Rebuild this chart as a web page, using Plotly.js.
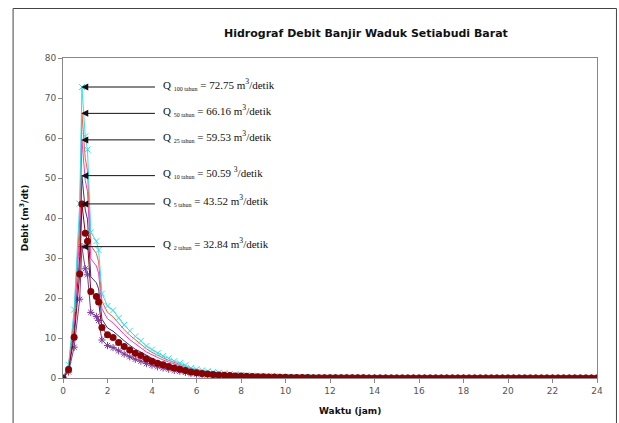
<!DOCTYPE html>
<html><head><meta charset="utf-8">
<script src="https://cdn.plot.ly/plotly-3.0.1.min.js"></script>
<style>html,body{margin:0;padding:0;background:#fff}#chart{width:619px;height:423px}</style>
</head><body><div id="chart"></div>
<script>
// time (jam)
const waktu = [0,0.25,0.5,0.75,0.85,1,1.1,1.25,1.5,1.6,1.75,
 2,2.25,2.5,2.75,3,3.25,3.5,3.75,4,4.25,4.5,4.75,5,5.25,5.5,5.75,6,6.25,6.5,6.75,7,7.25,7.5,7.75,8,
 8.25,8.5,8.75,9,9.25,9.5,9.75,10,10.25,10.5,10.75,11,11.25,11.5,11.75,12,
 12.25,12.5,12.75,13,13.25,13.5,13.75,14,14.25,14.5,14.75,15,15.25,15.5,15.75,16,
 16.25,16.5,16.75,17,17.25,17.5,17.75,18,18.25,18.5,18.75,19,19.25,19.5,19.75,20,
 20.25,20.5,20.75,21,21.25,21.5,21.75,22,22.25,22.5,22.75,23,23.25,23.5,23.75,24];

const q100 = [0,3.3,17.1,43.6,72.75,60.4,57.1,36.4,34.2,32.0,21.1,
 18.0,16.9,15.0,13.3,11.8,10.4,9.3,8.0,7.1,6.2,5.5,4.9,4.2,3.7,3.2,2.5,2.2,1.9,1.7,1.5,1.3,1.2,1.0,0.9,0.8,
 0.7,0.6,0.55,0.48,0.42,0.37,0.33,0.29,0.26,0.23,0.2,0.18,0.16,0.14,0.12,0.11,
 0.10,0.09,0.08,0.07,0.07,0.06,0.05,0.05,0.04,0.04,0.04,0.03,0.03,0.03,0.02,0.02,
 0.02,0.02,0.02,0.02,0.01,0.01,0.01,0.01,0.01,0.01,0.01,0.01,0.01,0.01,0.01,0.01,
 0.01,0.01,0.01,0.01,0.01,0.01,0.01,0.01,0.01,0.01,0.01,0.01,0.01,0.01,0.01,0.01];

const q50 = [0,3.0,15.5,39.7,66.16,54.9,51.9,33.1,31.1,29.1,19.2,
 16.4,15.3,13.6,12.1,10.7,9.5,8.5,7.3,6.4,5.6,5.0,4.4,3.8,3.4,2.9,2.3,2.0,1.7,1.5,1.3,1.2,1.06,0.93,0.8,0.73,
 0.63,0.56,0.5,0.44,0.38,0.34,0.3,0.26,0.23,0.2,0.18,0.16,0.14,0.13,0.11,0.1,
 0.09,0.08,0.07,0.07,0.06,0.05,0.05,0.04,0.04,0.04,0.03,0.03,0.03,0.02,0.02,0.02,
 0.02,0.02,0.02,0.01,0.01,0.01,0.01,0.01,0.01,0.01,0.01,0.01,0.01,0.01,0.01,0.01,
 0.01,0.01,0.01,0.01,0.01,0.01,0.01,0.01,0.01,0.01,0.01,0.01,0.01,0.01,0.01,0.01];

const q25 = [0,2.7,14.0,35.7,59.53,49.4,46.7,29.8,28.0,26.2,17.3,
 14.8,13.8,12.3,10.9,9.6,8.5,7.6,6.5,5.8,5.1,4.5,4.0,3.5,3.0,2.6,2.1,1.8,1.5,1.4,1.2,1.07,0.95,0.83,0.71,0.65,
 0.57,0.5,0.45,0.39,0.35,0.3,0.27,0.24,0.21,0.18,0.16,0.14,0.13,0.11,0.1,0.09,
 0.08,0.07,0.07,0.06,0.05,0.05,0.04,0.04,0.04,0.03,0.03,0.03,0.02,0.02,0.02,0.02,
 0.02,0.02,0.01,0.01,0.01,0.01,0.01,0.01,0.01,0.01,0.01,0.01,0.01,0.01,0.01,0.01,
 0.01,0.01,0.01,0.01,0.01,0.01,0.01,0.01,0.01,0.01,0.01,0.01,0.01,0.01,0.01,0.01];

const q10 = [0,2.3,11.9,30.4,50.59,42.0,39.7,25.3,23.8,22.3,14.7,
 12.5,11.7,10.4,9.3,8.2,7.2,6.5,5.6,4.9,4.3,3.8,3.4,2.9,2.6,2.2,1.8,1.5,1.3,1.16,1.0,0.91,0.81,0.71,0.61,0.56,
 0.48,0.43,0.38,0.33,0.29,0.26,0.23,0.2,0.18,0.16,0.14,0.12,0.11,0.1,0.09,0.08,
 0.07,0.06,0.06,0.05,0.05,0.04,0.04,0.03,0.03,0.03,0.03,0.02,0.02,0.02,0.02,0.02,
 0.01,0.01,0.01,0.01,0.01,0.01,0.01,0.01,0.01,0.01,0.01,0.01,0.01,0.01,0.01,0.01,
 0.01,0.01,0.01,0.01,0.01,0.01,0.01,0.01,0.01,0.01,0.01,0.01,0.01,0.01,0.01,0.01];

const q5 = [0,2.1,10.2,26.0,43.52,36.2,34.2,21.6,20.4,19.0,12.6,
 10.8,10.1,8.9,7.9,7.0,6.2,5.6,4.8,4.2,3.7,3.3,2.9,2.5,2.2,1.9,1.5,1.3,1.13,1.0,0.87,0.78,0.7,0.61,0.52,0.48,
 0.41,0.37,0.33,0.29,0.25,0.22,0.2,0.17,0.15,0.14,0.12,0.1,0.09,0.08,0.07,0.07,
 0.06,0.05,0.05,0.04,0.04,0.04,0.03,0.03,0.03,0.02,0.02,0.02,0.02,0.02,0.01,0.01,
 0.01,0.01,0.01,0.01,0.01,0.01,0.01,0.01,0.01,0.01,0.01,0.01,0.01,0.01,0.01,0.01,
 0.01,0.01,0.01,0.01,0.01,0.01,0.01,0.01,0.01,0.01,0.01,0.01,0.01,0.01,0.01,0.01];

const q2 = [0,1.5,7.7,19.7,32.84,27.3,25.8,16.4,15.4,14.4,9.5,
 8.1,7.6,6.8,6.0,5.3,4.7,4.2,3.6,3.2,2.8,2.5,2.2,1.9,1.7,1.4,1.15,0.99,0.85,0.76,0.66,0.59,0.53,0.46,0.39,0.36,
 0.31,0.28,0.25,0.22,0.19,0.17,0.15,0.13,0.11,0.1,0.09,0.08,0.07,0.06,0.06,0.05,
 0.05,0.04,0.04,0.03,0.03,0.03,0.02,0.02,0.02,0.02,0.02,0.01,0.01,0.01,0.01,0.01,
 0.01,0.01,0.01,0.01,0.01,0.01,0.01,0.01,0.01,0.01,0.01,0.01,0.01,0.01,0.01,0.01,
 0.01,0.01,0.01,0.01,0.01,0.01,0.01,0.01,0.01,0.01,0.01,0.01,0.01,0.01,0.01,0.01];

// peak labels
const peakNames = ['100 tahun','50 tahun','25 tahun','10 tahun','5 tahun','2 tahun'];
const peakValues = [72.75, 66.16, 59.53, 50.59, 43.52, 32.84];
const peakUnits = ['m<sup>3</sup>/detik','m<sup>3</sup>/detik','m<sup>3</sup>/detik','<sup>3</sup>/detik','m<sup>3</sup>/detik','m<sup>3</sup>/detik'];

const peakTime = 0.82;   // arrow tip (jam)
const arrowTail = 4.2;   // arrow tail (jam)
const labelX = 4.4;

const lineTrace = (y, color, extra) => Object.assign({
  x: waktu, y: y, type: 'scatter', mode: 'lines',
  line: {color: color, width: 1}, hoverinfo: 'skip'
}, extra || {});

const data = [
  lineTrace(q10, '#333399'),
  lineTrace(q25, '#FF33CC'),
  lineTrace(q50, '#FF5533'),
  lineTrace(q100, '#33E0E8', {mode: 'lines+markers', marker: {symbol: 'x-thin-open', size: 6, color: '#33E0E8', line: {color: '#33E0E8', width: 1}}}),
  lineTrace(q2, '#7A3A9A', {mode: 'lines+markers', marker: {symbol: 'asterisk-open', size: 6, color: '#7A3A9A', line: {color: '#7A3A9A', width: 1}}}),
  lineTrace(q5, '#8B0000', {mode: 'lines+markers', marker: {symbol: 'circle', size: 7, color: '#8B0000'}})
];

const annotations = [];
peakValues.forEach((v, i) => {
  annotations.push({x: peakTime, y: v, xref: 'x', yref: 'y', ax: arrowTail, ay: v, axref: 'x', ayref: 'y',
    text: '', showarrow: true, arrowhead: 2, arrowsize: 1.4, arrowwidth: 1, arrowcolor: '#111', standoff: 0});
  annotations.push({x: labelX, y: v, xref: 'x', yref: 'y', xanchor: 'left', yanchor: 'middle', yshift: 3,
    showarrow: false,
    text: 'Q <sub><span style="font-size:6px">' + peakNames[i] + '</span></sub> = ' + v.toFixed(2) + ' ' + peakUnits[i],
    font: {family: 'Liberation Serif, Times New Roman, serif', size: 11, color: '#111'}});
});
annotations.push({xref: 'paper', yref: 'paper', x: (350 - 62.5) / 535, y: (378 - 411) / 320, xanchor: 'center', yanchor: 'middle',
  showarrow: false, text: '<b>Waktu (jam)</b>', font: {family: 'DejaVu Sans, Verdana, sans-serif', size: 9, color: '#111'}});

const px = v => (v - 62.5) / 535, py = v => (378 - v) / 320;

const layout = {
  width: 619, height: 423,
  margin: {l: 62.5, r: 21.5, t: 58, b: 45, pad: 0},
  paper_bgcolor: '#fff', plot_bgcolor: '#fff',
  showlegend: false,
  title: {text: '<b>Hidrograf Debit Banjir Waduk Setiabudi Barat</b>', xref: 'paper', x: px(366), xanchor: 'center',
    yref: 'container', y: 1 - 33/423, yanchor: 'middle',
    font: {family: 'DejaVu Sans, Verdana, sans-serif', size: 11, color: '#111'}},
  xaxis: {range: [0, 24], dtick: 2, tick0: 0, ticks: 'outside', ticklen: 4, tickcolor: '#888',
    showline: true, linecolor: '#888', linewidth: 1, mirror: true, showgrid: false, zeroline: false,
    tickfont: {family: 'DejaVu Sans, Verdana, sans-serif', size: 9, color: '#555'}},
  yaxis: {range: [0, 80], dtick: 10, tick0: 0, ticks: 'outside', ticklen: 4, tickcolor: '#888',
    showline: true, linecolor: '#888', linewidth: 1, mirror: true, showgrid: false, zeroline: false,
    tickfont: {family: 'DejaVu Sans, Verdana, sans-serif', size: 9, color: '#555'},
    title: {text: '<b>Debit (m<sup>3</sup>/dt)</b>', standoff: 14, font: {family: 'DejaVu Sans, Verdana, sans-serif', size: 9, color: '#111'}}},
  annotations: annotations,
  shapes: [{type: 'rect', xref: 'paper', yref: 'paper', x0: px(12.5), x1: px(617), y0: py(445), y1: py(8.5),
    line: {color: '#444', width: 1}, fillcolor: 'rgba(0,0,0,0)', layer: 'below'}]
};

Plotly.newPlot('chart', data, layout, {staticPlot: true, displayModeBar: false});
</script>
</body></html>
